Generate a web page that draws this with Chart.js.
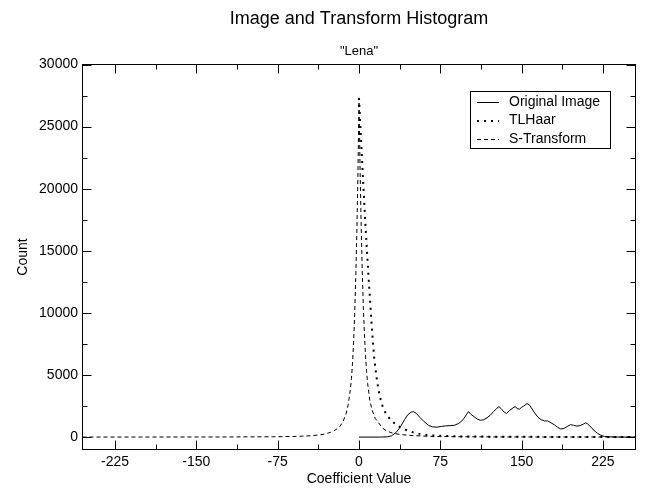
<!DOCTYPE html>
<html>
<head>
<meta charset="utf-8">
<script src="https://cdn.jsdelivr.net/npm/chart.js@4.4.1/dist/chart.umd.min.js"></script>
<style>
  html, body { margin: 0; padding: 0; background: #fff; }
</style>
</head>
<body>
<canvas id="histChart" width="645" height="489"></canvas>
<script>
// histogram of "Lena": pixel values and two transforms
const origX = [0, 20, 26, 30, 34, 38, 42, 45, 48, 50, 53, 56, 60, 64, 68, 72, 76, 80, 84, 88,
  92, 96, 99, 101, 103, 106, 109, 112, 115, 118, 121, 124, 127, 129, 131, 134, 136, 139, 142, 144,
  146, 148, 150, 152, 155, 157, 159, 162, 165, 168, 171, 174, 177, 180, 183, 186, 189, 192, 195, 198,
  201, 204, 207, 209, 211, 214, 217, 220, 223, 226, 230, 240, 255];
const origY = [0, 0, 20, 100, 350, 800, 1400, 1800, 2000, 2050, 1900, 1600, 1250, 950, 820, 800, 860, 900, 920, 950,
  1100, 1400, 1800, 2050, 1850, 1650, 1450, 1350, 1400, 1550, 1750, 2050, 2300, 2450, 2300, 2000, 1900, 2150, 2350, 2450,
  2300, 2250, 2400, 2500, 2700, 2600, 2350, 1950, 1600, 1400, 1300, 1300, 1150, 1000, 800, 650, 700, 850, 1000, 950,
  880, 920, 1050, 1150, 1050, 800, 500, 300, 150, 60, 20, 0, 0];

const haarX = [0, 1, 2, 3, 4, 5, 6, 7, 8, 9, 10, 12, 14, 16, 18, 20, 22, 25, 29, 34, 41, 50, 57, 65, 75, 90, 110, 150, 200, 255];
const haarY = [27300, 25500, 23800, 22000, 20300, 18600, 17000, 15500, 14000, 12600, 11300, 8600, 6400, 4900, 3800, 3000, 2400, 1850, 1400, 1000, 640, 380, 230, 150, 100, 60, 40, 20, 10, 0];

const stX = [-255, -120, -80, -60, -45, -36, -30, -26, -22, -18, -15, -12, -10, -8, -7, -6, -5, -4, -3, -2,
  -1, 0, 1, 2, 3, 4, 5, 6, 7, 8, 10, 12, 15, 18, 22, 26, 32, 40, 50, 65, 90, 130, 255];
const stY = [0, 10, 25, 50, 100, 180, 280, 390, 560, 820, 1200, 1850, 2600, 3800, 4700, 5900, 7600, 9900, 12800, 16500,
  21000, 27300, 21500, 17000, 13400, 10500, 8300, 6600, 5300, 4300, 2950, 2200, 1500, 1150, 700, 470, 290, 190, 120, 60, 30, 12, 0];

const xTicks = [-225, -150, -75, 0, 75, 150, 225];
const xMinor = [-187.5, -112.5, -37.5, 37.5, 112.5, 187.5];
const yTicks = [0, 5000, 10000, 15000, 20000, 25000, 30000];
const yMinor = [2500, 7500, 12500, 17500, 22500, 27500];

const toPoints = (xs, ys) => xs.map((v, i) => ({ x: v, y: ys[i] }));

Chart.defaults.font.family = '"Liberation Sans", Arial, Helvetica, sans-serif';
Chart.defaults.color = '#000';

// box round the plot, inward ticks, title and boxed legend
const frameAndTicks = {
  id: 'frameAndTicks',
  afterDatasetsDraw(chart) {
    const { ctx, chartArea: a, scales: { x, y } } = chart;
    ctx.save();
    ctx.strokeStyle = '#000';
    ctx.lineWidth = 1;
    ctx.setLineDash([]);
    ctx.strokeRect(a.left, a.top, a.right - a.left, a.bottom - a.top);

    ctx.beginPath();
    const xt = (v, len) => {
      const px = Math.round(x.getPixelForValue(v)) + 0.5;
      ctx.moveTo(px, a.bottom); ctx.lineTo(px, a.bottom - len);
      ctx.moveTo(px, a.top); ctx.lineTo(px, a.top + len);
    };
    const yt = (v, len) => {
      const py = Math.round(y.getPixelForValue(v)) + 0.5;
      ctx.moveTo(a.left, py); ctx.lineTo(a.left + len, py);
      ctx.moveTo(a.right, py); ctx.lineTo(a.right - len, py);
    };
    xTicks.forEach(v => xt(v, 9));
    xMinor.forEach(v => xt(v, 5));
    yTicks.forEach(v => yt(v, 9));
    yMinor.forEach(v => yt(v, 5));
    ctx.stroke();

    // titles
    const cx = (a.left + a.right) / 2;
    ctx.fillStyle = '#000';
    ctx.textAlign = 'center';
    ctx.textBaseline = 'alphabetic';
    ctx.font = '18px "Liberation Sans", Arial, sans-serif';
    ctx.fillText('Image and Transform Histogram', cx, 24);
    ctx.font = '13px "Liberation Sans", Arial, sans-serif';
    ctx.fillText('"Lena"', cx, 55);

    // legend
    ctx.strokeRect(470.5, 91.5, 140, 57);
    ctx.font = '14px "Liberation Sans", Arial, sans-serif';
    ctx.textAlign = 'left';
    ctx.textBaseline = 'middle';
    const rows = [102, 120.5, 139];
    chart.data.datasets.forEach((ds, i) => {
      const ry = rows[i];
      ctx.save();
      ctx.lineWidth = ds.borderWidth;
      ctx.setLineDash(ds.borderDash || []);
      ctx.beginPath();
      ctx.moveTo(477, ry + 0.5);
      ctx.lineTo(499, ry + 0.5);
      ctx.stroke();
      ctx.restore();
      ctx.fillText(ds.label, 509, ry);
    });
    ctx.restore();
  }
};

new Chart(document.getElementById('histChart'), {
  type: 'line',
  data: {
    datasets: [
      { label: 'Original Image', data: toPoints(origX, origY), borderColor: '#000', borderWidth: 1, borderDash: [] },
      { label: 'TLHaar', data: toPoints(haarX, haarY), borderColor: '#000', borderWidth: 2, borderDash: [2, 5] },
      { label: 'S-Transform', data: toPoints(stX, stY), borderColor: '#000', borderWidth: 1, borderDash: [4, 3] }
    ]
  },
  options: {
    responsive: false,
    animation: false,
    events: [],
    elements: { point: { radius: 0 }, line: { tension: 0, fill: false } },
    layout: { padding: { top: 64.5, right: 9.5, left: 0, bottom: 0 } },
    plugins: { legend: { display: false }, tooltip: { enabled: false } },
    scales: {
      x: {
        type: 'linear',
        min: -255,
        max: 255,
        afterBuildTicks: s => { s.ticks = xTicks.map(v => ({ value: v })); },
        afterFit: s => { s.height = 39.5; },
        grid: { display: false, drawTicks: false },
        border: { display: false },
        ticks: { autoSkip: false, maxRotation: 0, padding: 4, font: { size: 14 }, callback: v => String(v) },
        title: { display: true, text: 'Coefficient Value', font: { size: 14 }, padding: { top: 0, bottom: 1.6 } }
      },
      y: {
        type: 'linear',
        min: -1000,
        max: 30000,
        afterBuildTicks: s => { s.ticks = yTicks.map(v => ({ value: v })); },
        afterFit: s => { s.width = 82.5; },
        grid: { display: false, drawTicks: false },
        border: { display: false },
        ticks: { padding: 4.5, font: { size: 14 }, callback: v => String(v) },
        title: { display: true, text: 'Count', font: { size: 14 }, padding: { top: 14.6, bottom: 0 } }
      }
    }
  },
  plugins: [frameAndTicks]
});
</script>
</body>
</html>
